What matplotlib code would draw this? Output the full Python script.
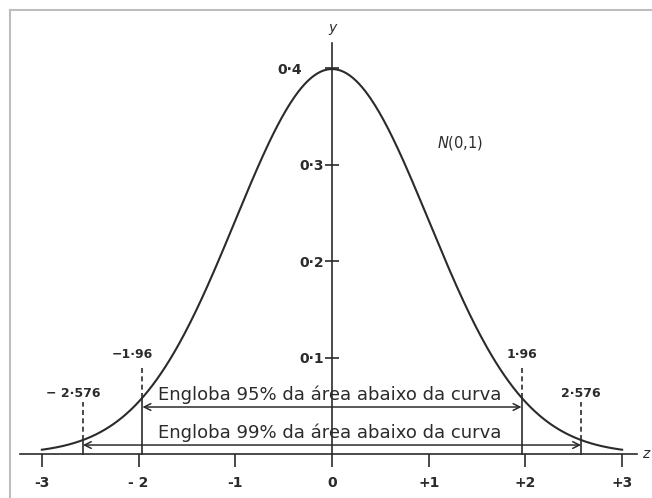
import numpy as np
import matplotlib.pyplot as plt
from matplotlib.lines import Line2D
from matplotlib.transforms import ScaledTranslation

# data
z_ticks = [-3, -2, -1, 0, 1, 2, 3]
z_labels = ['-3', '- 2', '-1', '0', '+1', '+2', '+3']
y_ticks = [0.1, 0.2, 0.3, 0.4]
y_labels = ['0·1', '0·2', '0·3', '0·4']
crit_values = [1.96, 2.576]
crit_labels = [('−1·96', '1·96'), ('− 2·576', '2·576')]
arrow_levels = [0.0487, 0.0093]
area_texts = ['Engloba 95% da área abaixo da curva', 'Engloba 99% da área abaixo da curva']
dash_tops = [0.092, 0.054]
label_levels = [0.1035, 0.063]

ink = '#2b2b2b'

fig = plt.figure(figsize=(6.52, 4.98), dpi=100)
ax = fig.add_axes([0, 0, 1, 1])
ax.set_xlim(-3.433, 3.309)
ax.set_ylim(-0.0456, 0.4705)

# normal curve
z = np.linspace(-3, 3, 400)
pdf = np.exp(-z ** 2 / 2) / np.sqrt(2 * np.pi)
ax.plot(z, pdf, color=ink, lw=1.5)

# axes through the origin
for side in ['top', 'right']:
    ax.spines[side].set_visible(False)
ax.spines['bottom'].set_position(('data', 0))
ax.spines['bottom'].set_bounds(-3.23, 3.15)
ax.spines['left'].set_position(('data', 0))
ax.spines['left'].set_bounds(0, 0.426)
for side in ['bottom', 'left']:
    ax.spines[side].set_color(ink)
    ax.spines[side].set_linewidth(1.2)

ax.set_xticks(z_ticks, z_labels)
ax.set_yticks(y_ticks, y_labels)
ax.tick_params(axis='x', direction='out', length=9, width=1.2, color=ink,
               pad=7, labelsize=10, labelcolor=ink)
ax.tick_params(axis='y', direction='inout', length=10, width=1.2, color=ink,
               pad=1, labelsize=10, labelcolor=ink)
for lab in ax.get_xticklabels() + ax.get_yticklabels():
    lab.set_fontweight('semibold')
# the 0.4 label sits left of the curve
top_lab = ax.get_yticklabels()[-1]
top_lab.set_transform(top_lab.get_transform() + ScaledTranslation(-0.22, 0, fig.dpi_scale_trans))

# critical values: solid under the curve, dashed above it
for c, (lneg, lpos), top, lab_y in zip(crit_values, crit_labels, dash_tops, label_levels):
    h = np.exp(-c ** 2 / 2) / np.sqrt(2 * np.pi)
    for s in (-1, 1):
        ax.plot([s * c, s * c], [0, h], color=ink, lw=1.2)
        ax.plot([s * c, s * c], [h, top], color=ink, lw=1.2, ls=(0, (3, 2)))
    ax.annotate(lneg, (-c, lab_y), xytext=(-7, 0), textcoords='offset points',
                ha='center', va='center', fontsize=9, fontweight='semibold', color=ink)
    ax.annotate(lpos, (c, lab_y), ha='center', va='center', fontsize=9,
                fontweight='semibold', color=ink)

# double arrows with text
for c, lvl, txt in zip(crit_values, arrow_levels, area_texts):
    ax.annotate('', xy=(-c, lvl), xytext=(c, lvl),
                arrowprops=dict(arrowstyle='<->', color=ink, lw=1.1,
                                shrinkA=0, shrinkB=0, mutation_scale=12))
    ax.annotate(txt, (-0.02, lvl), xytext=(0, 2), textcoords='offset points',
                ha='center', va='bottom', fontsize=13, color=ink)

ax.text(1.32, 0.322, r'$N$(0,1)', ha='center', va='center', fontsize=10.5, color=ink)
ax.text(0, 0.442, 'y', style='italic', ha='center', va='center', fontsize=10, color=ink)
ax.text(3.24, 0.0, 'z', style='italic', ha='center', va='center', fontsize=10, color=ink)

# picture frame
fig.add_artist(Line2D([10 / 652, 1], [1 - 10 / 498] * 2, color='#bdbdbd', lw=1.5))
fig.add_artist(Line2D([10 / 652] * 2, [0, 1 - 10 / 498], color='#bdbdbd', lw=1.5))

fig.savefig('out.png', dpi=100)
